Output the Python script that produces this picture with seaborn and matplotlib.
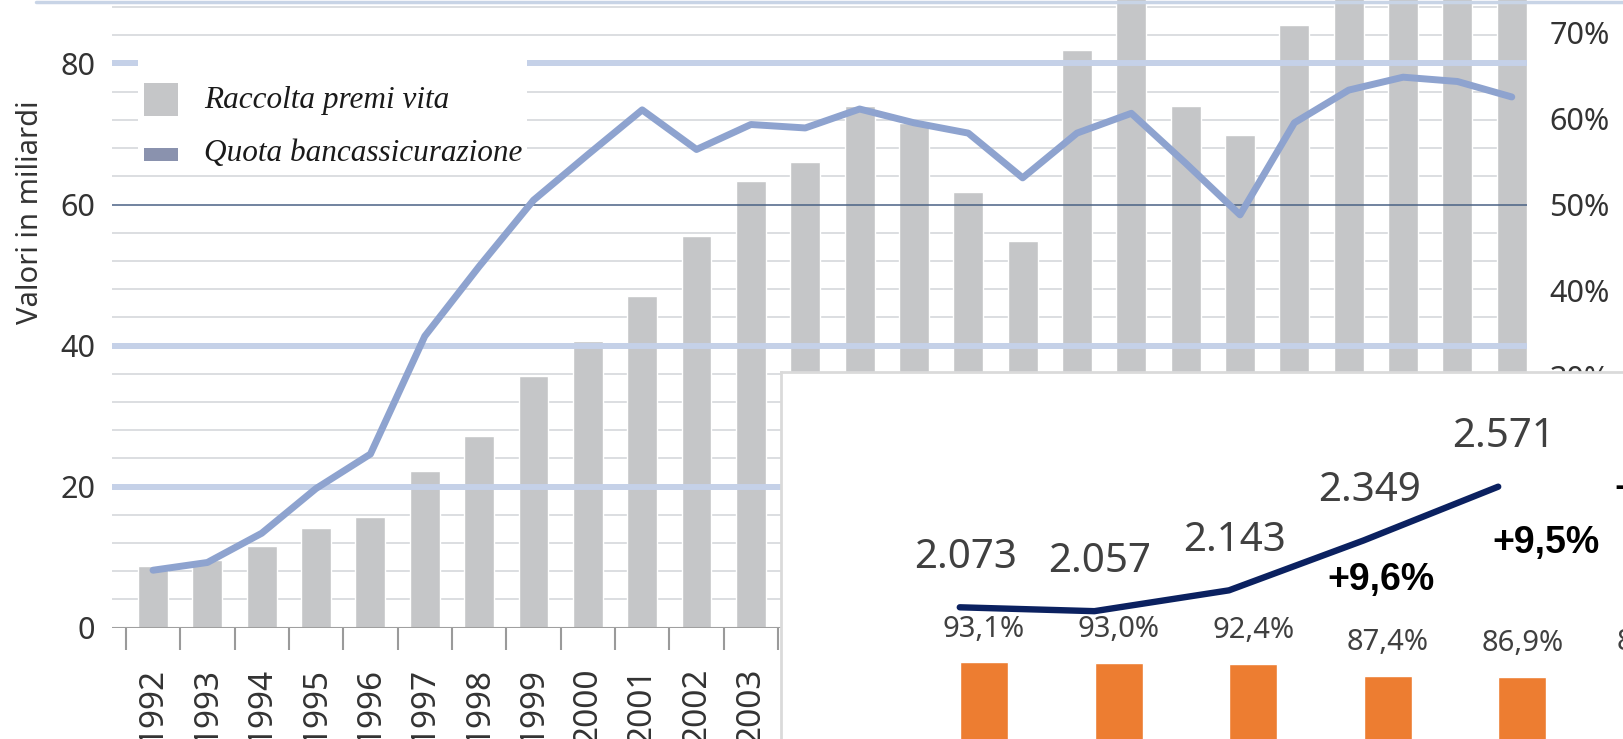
import numpy as np
import matplotlib.pyplot as plt
import seaborn as sns
from matplotlib.lines import Line2D
from matplotlib.patches import Rectangle

# Main chart: life premiums (bn) and bancassurance share (%)
years = [str(y) for y in range(1992, 2018)]
premi_vita = [8.7, 9.6, 11.6, 14.2, 15.7, 22.2, 27.2, 35.7, 40.7, 47.0, 55.5, 63.4, 66.0,
              73.9, 71.5, 61.8, 54.9, 81.9, 90.1, 74.0, 69.9, 85.5, 110.5, 114.9, 102.1, 98.4]
quota_banca = [7.5, 8.4, 11.8, 17.0, 21.0, 34.7, 42.8, 50.5, 55.8, 61.0, 56.4, 59.3, 58.9,
               61.1, 59.5, 58.3, 53.1, 58.3, 60.6, 54.8, 48.8, 59.5, 63.3, 64.8, 64.3, 62.5]
y_ticks = [0, 20, 40, 60, 80]
pct_ticks = [30, 40, 50, 60, 70]
legend_labels = ['Raccolta premi vita', 'Quota bancassicurazione']

# Overlapping panel
clienti = [2073, 2057, 2143, 2349, 2571]
quota_pct = [93.1, 93.0, 92.4, 87.4, 86.9]

W, H = 1623, 739
sns.set_theme(style='white')
plt.rcParams['font.family'] = ['Noto Sans', 'DejaVu Sans']

fig = plt.figure(figsize=(W / 100, H / 100), dpi=100)
fig.patch.set_facecolor('white')


def px_box(x0, y0, x1, y1):
    # pixel box (top-left origin) -> figure fraction rect
    return [x0 / W, 1 - y1 / H, (x1 - x0) / W, (y1 - y0) / H]


def clean(a):
    a.set_xlabel('')
    a.set_ylabel('')
    for s in a.spines.values():
        s.set_visible(False)


# --- main chart ---
ax = fig.add_axes(px_box(112, 0, 1527, 627.7))
sns.barplot(x=years, y=premi_vita, color='#c5c6c8', width=0.55, errorbar=None,
            saturation=1, ax=ax, zorder=1)

for v in np.arange(4, 89, 4):
    if v not in y_ticks:
        ax.axhline(v, color='#d6d8dc', lw=1.2, zorder=0.5)
for v in [20, 40, 80]:
    ax.axhline(v, color='#c5d1e8', lw=4.3, zorder=3)
ax.axhline(60, color='#4a6285', lw=1.1, zorder=3)
ax.axhline(0, color='#a0a0a0', lw=1.5, zorder=3)

ax.set_xlim(-0.755, 25.28)
ax.set_ylim(0, 89)
ax.set_yticks(y_ticks)
ax.set_xticks(range(len(years)))
ax.set_xticklabels(years, rotation=90)
ax.tick_params(axis='y', length=0, pad=12, labelsize=22, labelcolor='#333333')
ax.tick_params(axis='x', length=0, pad=29, labelsize=24, labelcolor='#333333')
ax.vlines(np.arange(-0.5, len(years)), -0.035, 0, transform=ax.get_xaxis_transform(),
          color='#9a9a9a', lw=1.5, clip_on=False)
clean(ax)

ax2 = ax.twinx()
sns.lineplot(x=np.arange(len(years)), y=quota_banca, ax=ax2, color='#8ea3cf',
             linewidth=5, zorder=4)
ax2.set_ylim(0.82, 73.77)
ax2.set_yticks(pct_ticks)
ax2.set_yticklabels([f'{p}%' for p in pct_ticks])
ax2.tick_params(axis='y', length=0, pad=16, labelsize=22, labelcolor='#333333')
clean(ax2)

# legend box (white panel over the grid)
fig.add_artist(Rectangle((138 / W, 1 - 173 / H), 389 / W, 113 / H,
                         transform=fig.transFigure, facecolor='white',
                         edgecolor='none', zorder=1))
fig.add_artist(Rectangle((144 / W, 1 - 116 / H), 34 / W, 33 / H,
                         transform=fig.transFigure, facecolor='#c5c6c8',
                         edgecolor='none', zorder=2))
fig.add_artist(Rectangle((144 / W, 1 - 161 / H), 34 / W, 13 / H,
                         transform=fig.transFigure, facecolor='#8a92ae',
                         edgecolor='none', zorder=2))
for lab, base in zip(legend_labels, [108, 160.5]):
    fig.text(204 / W, 1 - base / H, lab, family='Liberation Serif', style='italic',
             fontsize=22.5, color='#1a1a1a', ha='left', va='baseline', zorder=2)

fig.text(31 / W, 1 - 212 / H, 'Valori in miliardi', rotation=90, ha='center',
         va='center', fontsize=21, color='#333333')
fig.add_artist(Line2D([36 / W, 1], [1 - 1.5 / H, 1 - 1.5 / H], color='#c8d4e6', lw=2.5))

# --- overlapping panel ---
iax = fig.add_axes(px_box(781, 372, W, H), zorder=5)
iax.set_facecolor('white')
iax.set_xticks([])
iax.set_yticks([])
sns.lineplot(x=np.arange(len(clienti)), y=clienti, ax=iax, color='#0b2160',
             linewidth=4.6, solid_capstyle='round')
for i, v in enumerate(clienti):
    iax.annotate(f'{v:,}'.replace(',', '.'), (i, v), xytext=(4, 35.6),
                 textcoords='offset points', ha='center', va='center',
                 fontsize=29, color='#404040')
growth_offsets = {3: (12.6, -28.8), 4: (34.6, -40.3)}
for i, off in growth_offsets.items():
    g = (clienti[i] / clienti[i - 1] - 1) * 100
    iax.annotate(f'+{g:.1f}%'.replace('.', ','), (i, clienti[i]), xytext=off,
                 textcoords='offset points', ha='center', va='center',
                 fontsize=27, fontweight='bold', family='Liberation Sans', color='black')
clean(iax)
for side in ('top', 'left'):
    iax.spines[side].set_visible(True)
    iax.spines[side].set_color('#dadada')
    iax.spines[side].set_linewidth(2)
iax.set_xlim(-1.328, 4.927)
iax.set_ylim(1529.2, 3044.5)

bax = fig.add_axes(px_box(781, 372, W, H), zorder=6)
bax.patch.set_visible(False)
bax.set_xticks([])
bax.set_yticks([])
sns.barplot(x=np.arange(len(quota_pct)), y=quota_pct, ax=bax, color='#ed7d31',
            width=0.357, errorbar=None, saturation=1)
for i, v in enumerate(quota_pct):
    bax.annotate(f'{v:.1f}%'.replace('.', ','), (i, v), xytext=(0, 24),
                 textcoords='offset points', ha='center', va='center',
                 fontsize=21, color='#404040')
clean(bax)
bax.set_xticks([])
bax.set_yticks([])
bax.set_xlim(-1.508, 4.747)
bax.set_ylim(60.5, 216.6)

# labels of the next (cut off) column at the right edge
fig.text(1614 / W, 1 - 490 / H, '+', fontsize=27, fontweight='bold',
         family='Liberation Sans', color='black', ha='left', va='center', zorder=7)
fig.text(1617 / W, 1 - 643 / H, '8', fontsize=21, color='#404040',
         ha='left', va='center', zorder=7)

fig.savefig('out.png', dpi=100, facecolor='white')
